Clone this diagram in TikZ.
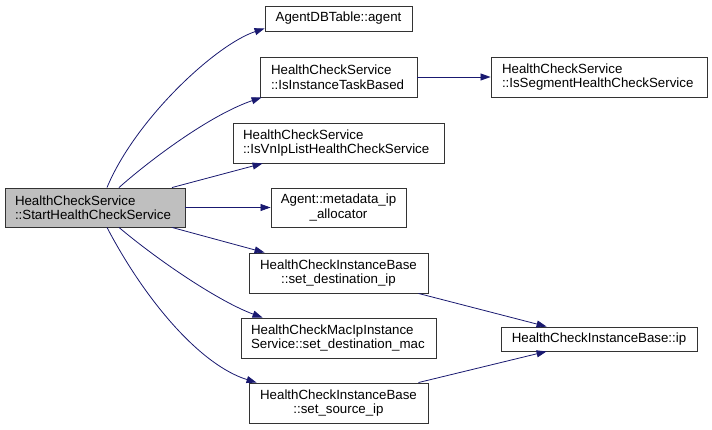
\documentclass[tikz,border=0pt]{standalone}
\usepackage{fontspec}
\setmainfont{Liberation Sans}
\usepackage{xcolor}
\usetikzlibrary{positioning,calc,arrows.meta}

\definecolor{edgeblue}{RGB}{25,25,112}
\definecolor{boxgray}{RGB}{191,191,191}

\begin{document}
\begin{tikzpicture}[x=1pt, y=-1pt,
    fn/.style={draw=black!80, line width=0.9pt, rectangle, inner sep=0pt,
      font=\fontsize{13.3}{14.5}\selectfont},
    call/.style={draw=edgeblue, line width=0.8pt, -{Triangle[length=10pt,width=7pt]}}]
  \useasboundingbox (0,0) rectangle (712,430);

  % Caller
  \node[fn, fill=boxgray, minimum width=180pt, minimum height=39pt, text width=160pt, align=left] (start) at (95,207.5)
    {HealthCheckService\\::StartHealthCheckService};

  % Callees
  \node[fn, minimum width=147pt, minimum height=25pt] (agent) at (338.5,18.5) {AgentDBTable::agent};
  \node[fn, minimum width=157pt, minimum height=40pt, text width=135pt, align=left] (inst) at (338.5,77)
    {HealthCheckService\\::IsInstanceTaskBased};
  \node[fn, minimum width=216pt, minimum height=40pt, text width=194pt, align=left] (seg) at (599,77)
    {HealthCheckService\\::IsSegmentHealthCheckService};
  \node[fn, minimum width=211pt, minimum height=40pt, text width=191pt, align=left] (vnip) at (338.5,143)
    {HealthCheckService\\::IsVnIpListHealthCheckService};
  \node[fn, minimum width=135pt, minimum height=39pt, align=center] (meta) at (338.5,207.5)
    {Agent::metadata\_ip\\\_allocator};
  \node[fn, minimum width=179pt, minimum height=40pt, align=center] (dest) at (338.5,273)
    {HealthCheckInstanceBase\\::set\_destination\_ip};
  \node[fn, minimum width=195pt, minimum height=40pt, text width=175pt, align=left] (mac) at (338.5,338)
    {HealthCheckMacIpInstance\\Service::set\_destination\_mac};
  \node[fn, minimum width=179pt, minimum height=40pt, align=center] (src) at (338.5,403)
    {HealthCheckInstanceBase\\::set\_source\_ip};
  \node[fn, minimum width=196pt, minimum height=24pt] (ip) at (599,339) {HealthCheckInstanceBase::ip};

  % Calls
  \draw[call] ([xshift=12pt]start.north) .. controls (135,120) and (215,45) .. ([yshift=3pt]agent.south west);
  \draw[call] ([xshift=24pt]start.north) .. controls (150,160) and (210,115) .. ([xshift=2pt]inst.south west);
  \draw[call] ([xshift=77pt]start.north) -- ([xshift=30pt]vnip.south west);
  \draw[call] (start.east) -- (meta.west);
  \draw[call] ([xshift=77pt]start.south) -- ([xshift=16pt]dest.north west);
  \draw[call] ([xshift=24pt]start.south) .. controls (160,262) and (220,302) .. ([xshift=22pt]mac.north west);
  \draw[call] ([xshift=12pt]start.south) .. controls (145,300) and (200,365) .. ([xshift=8pt]src.north west);
  \draw[call] (inst.east) -- (seg.west);
  \draw[call] ([xshift=-10pt]dest.south east) -- ([xshift=46pt]ip.north west);
  \draw[call] ([xshift=-10pt]src.north east) -- ([xshift=46pt]ip.south west);
\end{tikzpicture}
\end{document}
